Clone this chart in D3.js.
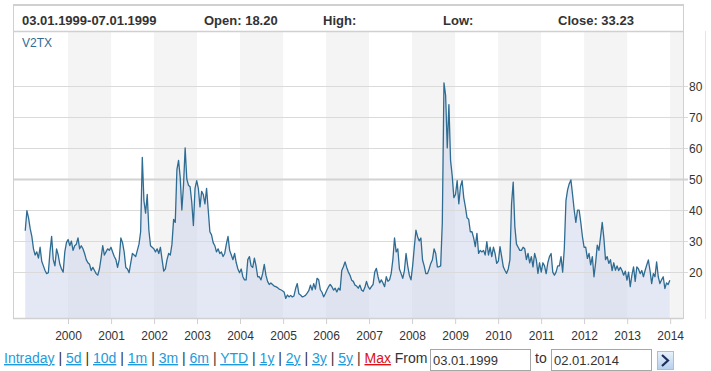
<!DOCTYPE html>
<html>
<head>
<meta charset="utf-8">
<script src="https://cdn.jsdelivr.net/npm/d3@7"></script>
<style>
  body { margin: 0; background: #fff; }
  svg { display: block; font-family: "Liberation Sans", Arial, sans-serif; }
</style>
</head>
<body>
<div id="chart"></div>
<script>
// Weekly V2TX closes, one value every second week from 03.01.1999
const startDate = new Date(1999, 0, 3);
const stepDays = 14;

const values1999 = [33.3, 39.8, 37.5, 34, 31.5, 27.5, 25.5, 26.5, 24.5, 28, 23.5, 22, 20.5, 19.5, 19.8, 26.5, 31.5, 24, 22, 27.5, 25.5, 22.5, 21, 20, 26.5, 29.5, 30.5];
const values2000 = [28.5, 30, 27, 28.5, 29, 31, 27.5, 28.5, 27.5, 26, 24, 23, 22.5, 20.5, 21.5, 20.5, 19.5, 19, 21, 24.5, 28.5, 25.5, 26.5, 27.5, 27, 28];
const values2001 = [26.5, 25, 24, 21.5, 24, 31, 29.5, 26.5, 21.5, 21, 19.8, 23, 26, 25.5, 25, 27, 29, 33, 57, 43, 39, 45, 33.5, 28.5, 28, 27.5];
const values2002 = [26.5, 27.5, 26, 28, 24, 20.3, 21, 24, 26, 25.5, 29, 37, 36, 53, 56, 50.5, 40, 48, 60, 50, 48, 47.5, 42.5, 35, 47, 49.5];
const values2003 = [47, 41, 46, 45, 42, 47, 40, 33, 32, 29.5, 28.5, 26.5, 27.5, 26, 26.5, 25, 26, 29, 31.5, 27, 25.5, 24, 26, 23, 21, 19.8];
const values2004 = [21, 18.5, 17.5, 17.5, 24, 25, 22, 21.5, 24.5, 22, 18.5, 18.5, 17.5, 19.5, 22.5, 19, 17, 16, 16.5, 16, 15.5, 15.3, 15, 14.5, 14.3, 14];
const values2005 = [13.6, 11.5, 12.6, 12, 12.5, 12, 12.3, 14.7, 16.3, 13, 12.6, 12, 12.2, 12.5, 13.2, 14, 15.8, 14.2, 16.3, 14.5, 18, 17.5, 14.3, 13.5, 12, 13];
const values2006 = [14.2, 15.3, 16, 15.3, 14.2, 14.8, 13.6, 14.8, 14.2, 20.5, 21.7, 23.3, 21.5, 20, 19, 17.4, 17, 15.8, 15.5, 14.8, 15.8, 14.2, 13.8, 15, 17, 15.3];
const values2007 = [14.5, 15.3, 16, 20, 21.2, 18.5, 16.5, 17.5, 16.5, 15.3, 18.5, 17, 17.5, 19.6, 24, 31, 26.5, 27.5, 21, 19.5, 18, 20.5, 26, 22, 19, 17.5];
const values2008 = [22, 28, 33.5, 31.4, 30, 31, 23.9, 22, 19.5, 19.5, 21, 22.8, 24, 27.5, 26, 21.7, 21.7, 22, 36, 81, 77, 60, 74, 56, 51, 44];
const values2009 = [45, 49.5, 42, 47.5, 49.5, 44, 41, 37.5, 37, 33, 33, 31, 28.2, 32.5, 26, 27, 26.5, 27, 25.5, 29.8, 25.5, 28, 25, 28, 26, 22.8];
const values2010 = [23.5, 28.2, 25, 21.7, 20.5, 19.6, 21, 23.9, 42, 49, 34.6, 29, 28, 27, 27, 28, 27.5, 24, 26, 23, 25, 21.7, 26, 24, 19.6, 23];
const values2011 = [20, 23, 22, 19.5, 23, 25, 26, 20, 19, 20, 22, 22, 25, 20, 27.5, 43, 46.5, 48.5, 49.7, 45, 40, 36, 40, 40, 36, 31.4, 28];
const values2012 = [28, 24.4, 26, 22.3, 25, 18.5, 23, 28.7, 27, 31.4, 36, 31, 24, 25, 22.8, 24, 20.5, 23, 20.6, 22, 20.5, 21.5, 20.5, 19, 20.3, 17.4];
const values2013 = [20, 15.3, 19, 21.7, 17, 21.7, 21, 19.5, 20.5, 18.5, 20.5, 22.3, 23.9, 20.5, 16.3, 19.5, 18.5, 23.3, 18.5, 16.3, 17.5, 18.5, 14.7, 16.5, 16, 17.4];

const yTicks = [20, 30, 40, 50, 60, 70, 80];
const xTickYears = [2000, 2001, 2002, 2003, 2004, 2005, 2006, 2007, 2008, 2009, 2010, 2011, 2012, 2013, 2014];
const bandYears = [2000, 2002, 2004, 2006, 2008, 2010, 2012, 2014];
const headerItems = [
  { text: "03.01.1999-07.01.1999", x: 22 },
  { text: "Open: 18.20", x: 204 },
  { text: "High:", x: 323 },
  { text: "Low:", x: 443 },
  { text: "Close: 33.23", x: 558 }
];
const rangeLinks = ["Intraday", "5d", "10d", "1m", "3m", "6m", "YTD", "1y", "2y", "3y", "5y", "Max"];
const fromDate = "03.01.1999";
const toDate = "02.01.2014";

const values = [].concat(values1999, values2000, values2001, values2002, values2003,
  values2004, values2005, values2006, values2007, values2008, values2009,
  values2010, values2011, values2012, values2013);
const data = values.map((v, i) => ({ date: d3.timeDay.offset(startDate, i * stepDays), value: v }));

const width = 711, height = 371;
const plot = { left: 13, right: 683, top: 31, bottom: 318 };

const svg = d3.select("#chart").append("svg")
  .attr("width", width)
  .attr("height", height);

const x = d3.scaleTime()
  .domain([new Date(1998, 8, 21), new Date(2014, 3, 20)])
  .range([plot.left, plot.right]);

const y = d3.scaleLinear()
  .domain([5.2, 97.7])
  .range([plot.bottom, plot.top]);

svg.append("defs").append("clipPath").attr("id", "plot-clip")
  .append("rect")
  .attr("x", plot.left).attr("y", plot.top)
  .attr("width", plot.right - plot.left).attr("height", plot.bottom - plot.top);

// alternating year bands
svg.append("g").attr("clip-path", "url(#plot-clip)")
  .selectAll("rect")
  .data(bandYears)
  .join("rect")
  .attr("x", d => x(new Date(d, 0, 1)))
  .attr("y", plot.top)
  .attr("width", d => x(new Date(d + 1, 0, 1)) - x(new Date(d, 0, 1)))
  .attr("height", plot.bottom - plot.top)
  .attr("fill", "#f4f4f4");

// area under the line
const area = d3.area()
  .x(d => x(d.date))
  .y0(plot.bottom)
  .y1(d => y(d.value));

svg.append("path")
  .datum(data)
  .attr("d", area)
  .attr("fill", "#c9d1ea")
  .attr("fill-opacity", 0.5);

// horizontal grid
svg.append("g")
  .selectAll("line")
  .data(yTicks)
  .join("line")
  .attr("x1", plot.left)
  .attr("x2", plot.right + 5)
  .attr("y1", d => Math.round(y(d)) + 0.5)
  .attr("y2", d => Math.round(y(d)) + 0.5)
  .attr("stroke", d => d === 50 ? "#d2d2d2" : "#dadada")
  .attr("stroke-width", d => d === 50 ? 2 : 1);

const line = d3.line()
  .x(d => x(d.date))
  .y(d => y(d.value));

svg.append("path")
  .datum(data)
  .attr("d", line)
  .attr("fill", "none")
  .attr("stroke", "#2e6c93")
  .attr("stroke-width", 1.3)
  .attr("stroke-linejoin", "round");

// frame
const frame = svg.append("g").attr("stroke", "#d0d0d0").attr("fill", "none");
frame.append("line").attr("x1", plot.left).attr("x2", plot.right).attr("y1", 5).attr("y2", 5).attr("stroke-width", 2);
frame.append("line").attr("x1", plot.left).attr("x2", plot.right).attr("y1", 31.5).attr("y2", 31.5).attr("stroke-width", 1.5);
frame.append("line").attr("x1", plot.left + 0.5).attr("x2", plot.left + 0.5).attr("y1", 4).attr("y2", plot.bottom + 1);
frame.append("line").attr("x1", plot.right + 0.5).attr("x2", plot.right + 0.5).attr("y1", 4).attr("y2", plot.bottom + 1);
frame.append("line").attr("x1", plot.left).attr("x2", plot.right).attr("y1", plot.bottom + 0.5).attr("y2", plot.bottom + 0.5).attr("stroke-width", 1.5);
frame.append("line").attr("x1", 705.5).attr("x2", 705.5).attr("y1", 31).attr("y2", plot.bottom + 1).attr("stroke", "#e6e6e6");

// x axis
const xAxis = d3.axisBottom(x)
  .tickValues(xTickYears.map(yr => new Date(yr, 0, 1)))
  .tickFormat(d3.timeFormat("%Y"))
  .tickSize(6)
  .tickPadding(7);

const gx = svg.append("g")
  .attr("transform", `translate(0,${plot.bottom})`)
  .call(xAxis);
gx.select(".domain").remove();
gx.selectAll("line").attr("stroke", "#cfcfcf");
gx.selectAll("text").attr("fill", "#333").attr("font-size", 12)
  .attr("font-family", "Liberation Sans, Arial, sans-serif");

// y axis
const yAxis = d3.axisRight(y)
  .tickValues(yTicks)
  .tickSize(0)
  .tickPadding(6);

const gy = svg.append("g")
  .attr("transform", `translate(${plot.right},0.5)`)
  .call(yAxis);
gy.select(".domain").remove();
gy.selectAll("text").attr("fill", "#333").attr("font-size", 12)
  .attr("font-family", "Liberation Sans, Arial, sans-serif");

// header
svg.append("g")
  .selectAll("text")
  .data(headerItems)
  .join("text")
  .attr("x", d => d.x)
  .attr("y", 25)
  .attr("font-size", 13)
  .attr("font-weight", "bold")
  .attr("fill", "#333")
  .text(d => d.text);

svg.append("text")
  .attr("x", 22).attr("y", 47)
  .attr("font-size", 12)
  .attr("fill", "#2e6c93")
  .text("V2TX");

// range links row
const row = svg.append("text")
  .attr("x", 4).attr("y", 363)
  .attr("font-size", 14)
  .attr("fill", "#333");

rangeLinks.forEach((d, i) => {
  if (i > 0) row.append("tspan").text(" | ");
  row.append("tspan")
    .attr("fill", d === "Max" ? "#dd1111" : "#1e9bdc")
    .style("text-decoration", "underline")
    .text(d);
});
row.append("tspan").text(" From");

const inputs = [
  { text: fromDate, x: 430 },
  { text: toDate, x: 551 }
];
const gIn = svg.append("g");
gIn.selectAll("rect")
  .data(inputs)
  .join("rect")
  .attr("x", d => d.x + 0.5)
  .attr("y", 349.5)
  .attr("width", 100)
  .attr("height", 21)
  .attr("fill", "#fff")
  .attr("stroke", "#a6a6a6");
gIn.selectAll("text")
  .data(inputs)
  .join("text")
  .attr("x", d => d.x + 3)
  .attr("y", 365)
  .attr("font-size", 13)
  .attr("fill", "#333")
  .text(d => d.text);

svg.append("text")
  .attr("x", 535).attr("y", 363)
  .attr("font-size", 14)
  .attr("fill", "#333")
  .text("to");

// go button
const grad = svg.select("defs").append("linearGradient")
  .attr("id", "btn-grad").attr("x1", 0).attr("x2", 0).attr("y1", 0).attr("y2", 1);
grad.append("stop").attr("offset", 0).attr("stop-color", "#eaf2fb");
grad.append("stop").attr("offset", 1).attr("stop-color", "#b4cfee");

svg.append("rect")
  .attr("x", 657.5).attr("y", 351.5)
  .attr("width", 16).attr("height", 18)
  .attr("fill", "url(#btn-grad)")
  .attr("stroke", "#a9bfd8");
svg.append("path")
  .attr("d", "M662,355 L668,360.5 L662,366")
  .attr("fill", "none")
  .attr("stroke", "#1c2f5a")
  .attr("stroke-width", 2.2);
</script>
</body>
</html>
